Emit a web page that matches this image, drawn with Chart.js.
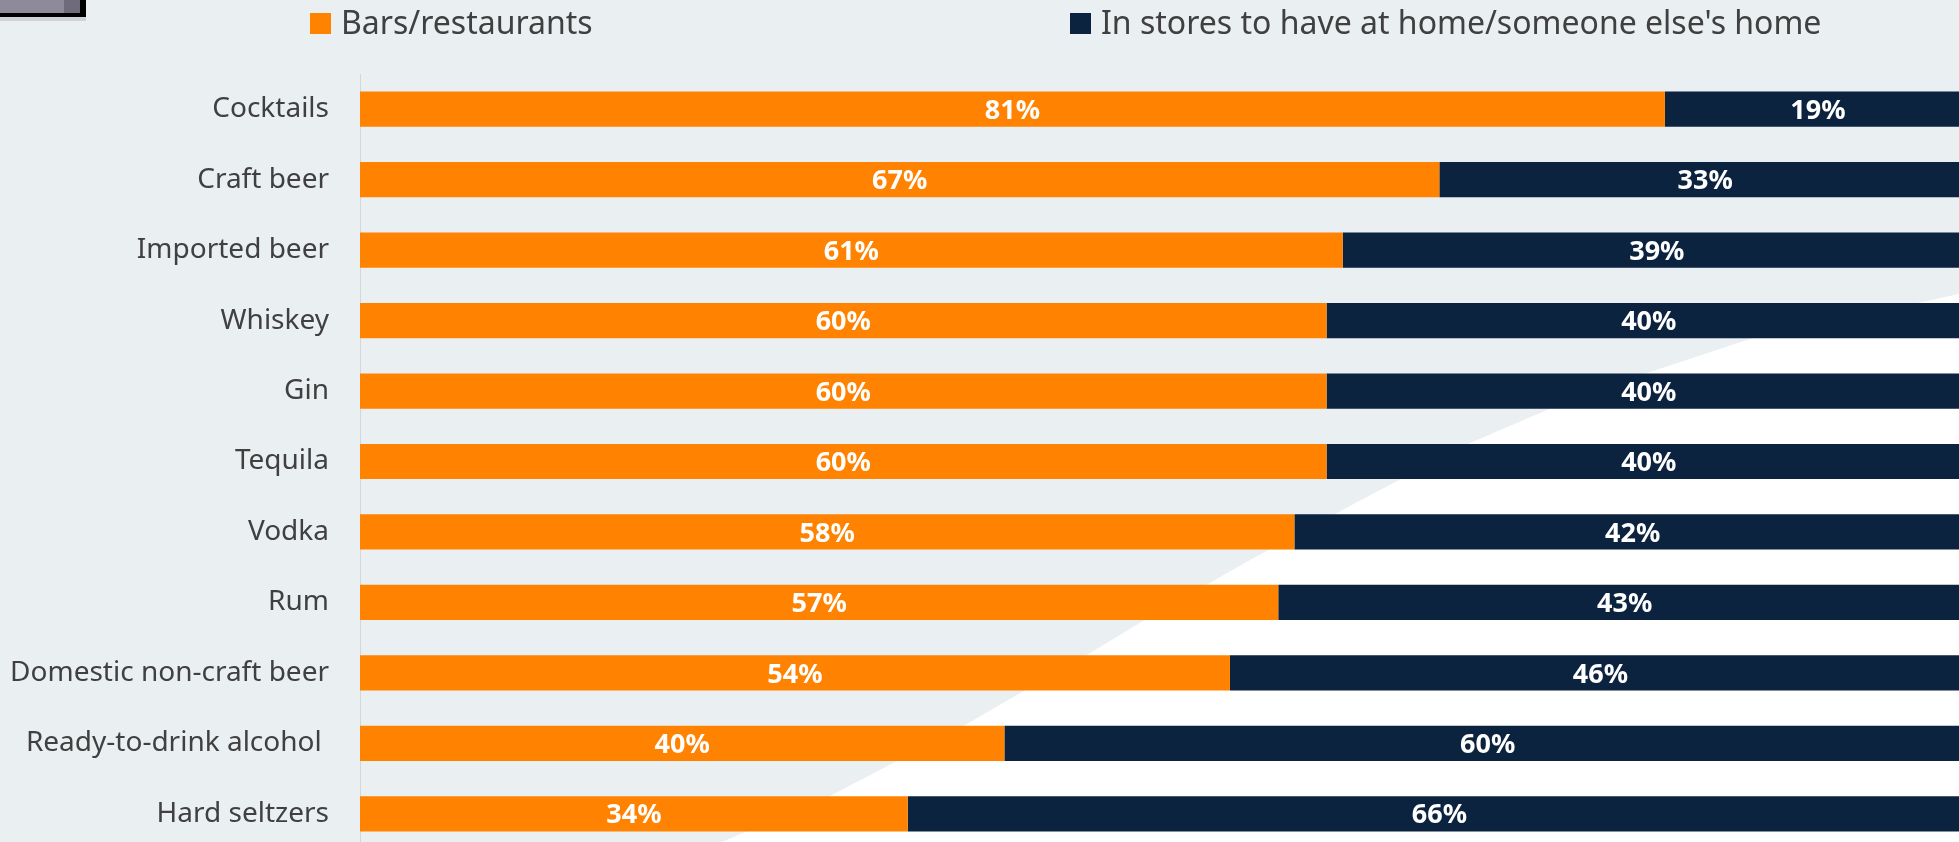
<!DOCTYPE html>
<html>
<head>
<meta charset="utf-8">
<title>Where drinks are bought</title>
<script src="https://cdn.jsdelivr.net/npm/chart.js@4.4.1/dist/chart.umd.min.js"></script>
<style>
  html, body { margin: 0; padding: 0; }
  body {
    width: 1959px; height: 842px; overflow: hidden; position: relative;
    background: #eaeff2;
    font-family: 'Noto Sans', sans-serif;
  }
  /* white swoosh in the lower right of the slide */
  .swoosh {
    position: absolute; left: 0; top: 0; width: 1959px; height: 842px;
    background: #ffffff;
    clip-path: polygon(1959px 294px, 1750px 339px, 1647px 373px, 1547px 410px, 1470px 443px,
      1361px 500px, 1250px 560px, 1143px 621px, 1087px 655px, 1022px 692px, 965px 725px,
      895px 762px, 830px 796px, 722px 842px, 1959px 842px);
  }
  .tab {
    position: absolute; left: 0; top: 0; width: 80px; height: 13px;
    background: linear-gradient(to right, #8e8a99 0, #8e8a99 64px, #6f6b7d 64px);
    border-right: 6px solid #000; border-bottom: 4px solid #000;
    box-shadow: 0 4px 0 #cfd3d6;
  }
  .chart-wrap { position: absolute; left: 0; top: 0; width: 1972px; height: 900px; }
  .legend { position: absolute; top: 0; left: 0; color: #404040; font-size: 32px; }
  .legend-item { position: absolute; top: 6px; white-space: nowrap; line-height: 32px; }
  .legend-swatch { position: absolute; top: 13px; width: 21px; height: 21px; }
</style>
</head>
<body>
<div class="swoosh"></div>
<div class="tab"></div>
<div class="chart-wrap"><canvas id="chartChannel" width="1972" height="900"></canvas></div>
<div class="legend">
  <div class="legend-swatch" style="left:310px;background:#ff8300"></div>
  <div class="legend-item" style="left:341px">Bars/restaurants</div>
  <div class="legend-swatch" style="left:1070px;background:#0c2340"></div>
  <div class="legend-item" style="left:1101px">In stores to have at home/someone else's home</div>
</div>
<script>
const categories = ['Cocktails', 'Craft beer', 'Imported beer', 'Whiskey', 'Gin', 'Tequila', 'Vodka',
  'Rum', 'Domestic non-craft beer', 'Ready-to-drink alcohol ', 'Hard seltzers'];
const barsRestaurants = [81, 67, 61, 60, 60, 60, 58, 57, 54, 40, 34];
const inStores = [19, 33, 39, 40, 40, 40, 42, 43, 46, 60, 66];
const seriesLabels = ['Bars/restaurants', "In stores to have at home/someone else's home"];

const ORANGE = '#ff8300';
const NAVY = '#0c2340';
const FONT = "'Noto Sans', sans-serif";

// white % labels centred in each segment
const segmentLabels = {
  id: 'segmentLabels',
  afterDatasetsDraw(chart) {
    const ctx = chart.ctx;
    ctx.save();
    ctx.fillStyle = '#ffffff';
    ctx.font = 'bold 27px ' + FONT;
    ctx.textAlign = 'center';
    ctx.textBaseline = 'middle';
    chart.data.datasets.forEach(function(ds, i) {
      chart.getDatasetMeta(i).data.forEach(function(bar, j) {
        const cx = (bar.x + bar.base) / 2;
        ctx.fillText(ds.data[j] + '%', cx, bar.y + 2);
      });
    });
    ctx.restore();
  }
};

new Chart(document.getElementById('chartChannel').getContext('2d'), {
  type: 'bar',
  data: {
    labels: categories,
    datasets: [
      { label: seriesLabels[0], data: barsRestaurants, backgroundColor: ORANGE },
      { label: seriesLabels[1], data: inStores, backgroundColor: NAVY }
    ]
  },
  options: {
    indexAxis: 'y',
    responsive: false,
    animation: false,
    // canvas runs past the page edge: the slide crops the last bar and the 100% end
    layout: { padding: { top: 74, right: 1, bottom: 51, left: 0 } },
    datasets: { bar: { categoryPercentage: 1, barPercentage: 0.5 } },
    plugins: {
      legend: { display: false },
      tooltip: { enabled: false }
    },
    scales: {
      x: { stacked: true, min: 0, max: 100, display: false },
      y: {
        stacked: true,
        grid: { display: false, drawTicks: false },
        border: { display: true, color: '#d3d7da', width: 1 },
        ticks: {
          padding: 31,
          color: '#404040',
          font: { family: FONT, size: 28 }
        },
        afterFit: function(scale) { scale.width = 360; }
      }
    }
  },
  plugins: [segmentLabels]
});
</script>
</body>
</html>
